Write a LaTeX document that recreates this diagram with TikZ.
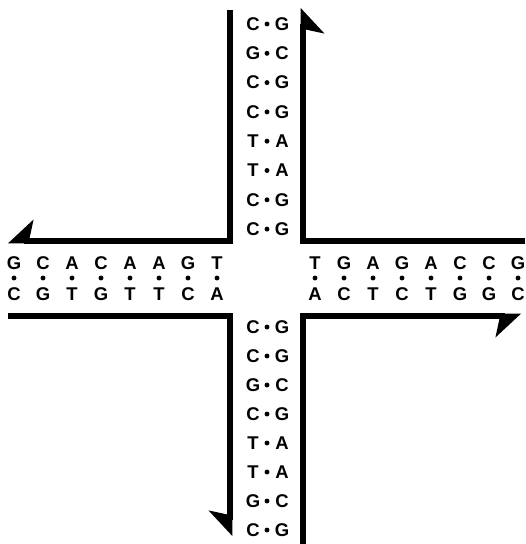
\documentclass[tikz,border=0pt]{standalone}
\usepackage{fontspec}
\setsansfont{Liberation Sans}
\usetikzlibrary{arrows.meta}

\begin{document}
\begin{tikzpicture}[x=0.02cm,y=-0.02cm,
    strand/.style={line width=3.4pt,line join=miter},
    harp/.style={-{Stealth[harpoon,swap,length=13pt,width=24pt,inset=2.5pt]}},
    base/.style={font=\sffamily\bfseries\fontsize{10.5}{12}\selectfont,inner sep=0pt},
    hbond/.style={circle,fill,inner sep=0pt,minimum size=2.8pt}]
    \useasboundingbox (0,0) rectangle (525,544);
    % Four strands of the junction, each with a half arrowhead
    \draw[strand,harp] (230,10) -- (230,241) -- (8,241);
    \draw[strand,harp] (525,241) -- (303,241) -- (303,8);
    \draw[strand,harp] (303,544) -- (303,316) -- (521,316);
    \draw[strand,harp] (8,316) -- (230,316) -- (230,536);
    % Upper arm
    \foreach \a/\b [count=\i] in {C/G,G/C,C/G,C/G,T/A,T/A,C/G,C/G} {
      \node[base] (ul\i) at (253,{24+29.3*(\i-1)}) {\a};
      \node[hbond] (um\i) at (267,{24+29.3*(\i-1)}) {};
      \node[base] (ur\i) at (282,{24+29.3*(\i-1)}) {\b};
    }
    % Lower arm
    \foreach \a/\b [count=\i] in {C/G,C/G,G/C,C/G,T/A,T/A,G/C,C/G} {
      \node[base] (dl\i) at (253,{327+29*(\i-1)}) {\a};
      \node[hbond] (dm\i) at (267,{327+29*(\i-1)}) {};
      \node[base] (dr\i) at (282,{327+29*(\i-1)}) {\b};
    }
    % Left arm
    \foreach \a/\b [count=\i] in {G/C,C/G,A/T,C/G,A/T,A/T,G/C,T/A} {
      \node[base] (lt\i) at ({14+29*(\i-1)},263) {\a};
      \node[hbond] (lm\i) at ({14+29*(\i-1)},278) {};
      \node[base] (lb\i) at ({14+29*(\i-1)},294) {\b};
    }
    % Right arm
    \foreach \a/\b [count=\i] in {T/A,G/C,A/T,G/C,A/T,C/G,C/G,G/C} {
      \node[base] (rt\i) at ({315+29*(\i-1)},263) {\a};
      \node[hbond] (rm\i) at ({315+29*(\i-1)},278) {};
      \node[base] (rb\i) at ({315+29*(\i-1)},294) {\b};
    }
\end{tikzpicture}
\end{document}
